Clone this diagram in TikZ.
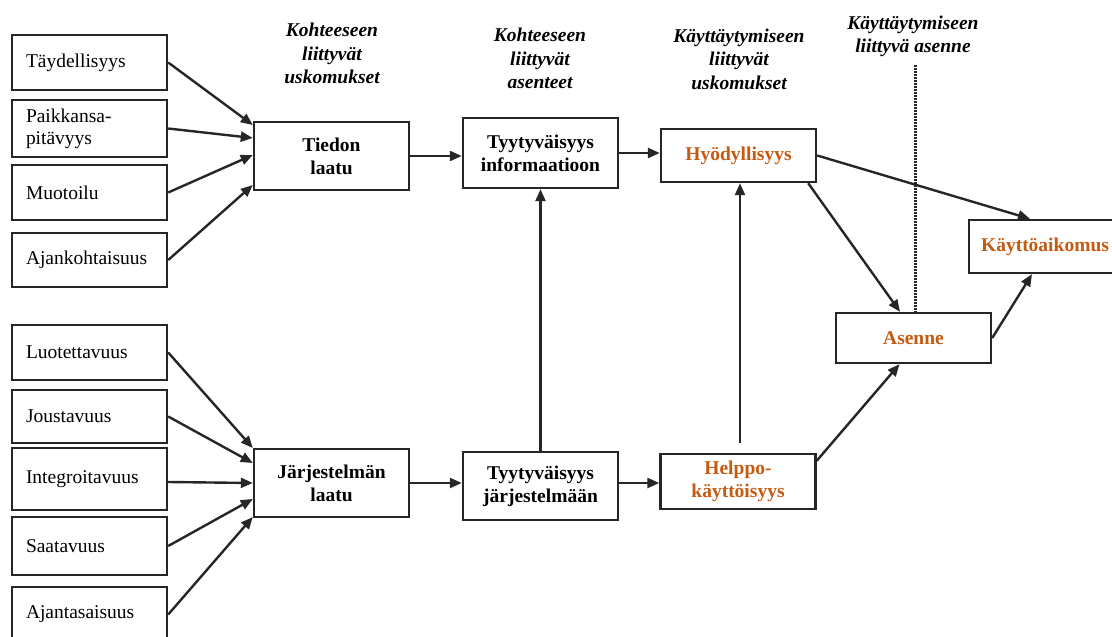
\documentclass[tikz,border=0pt]{standalone}
\usepackage{fontspec}
\setmainfont{Liberation Serif}
\usetikzlibrary{arrows.meta}
\definecolor{ink}{HTML}{262626}
\definecolor{accent}{HTML}{C55A11}

\begin{document}
\begin{tikzpicture}[x=1pt,y=-1pt,>={Triangle[length=12pt,width=10pt]},
  factor/.style={draw=ink,line width=2.4pt,inner xsep=14pt,inner ysep=0pt,text width=127pt,align=left,minimum height=#1,font=\fontsize{19.5}{22}\selectfont},
  construct/.style={draw=ink,line width=2.4pt,inner sep=0pt,minimum width=155pt,minimum height=#1,align=center,font=\bfseries\fontsize{19.5}{23}\selectfont},
  head/.style={align=center,font=\bfseries\itshape\fontsize{19.5}{23.5}\selectfont},
  link/.style={->,line width=2.4pt,draw=ink}]
  \useasboundingbox (0,0) rectangle (1112,637);
  % headers
  \node[head] (h1) at (332,53.5) {Kohteeseen\\liittyvät\\uskomukset};
  \node[head] (h2) at (540,58.5) {Kohteeseen\\liittyvät\\asenteet};
  \node[head] (h3) at (739,59) {Käyttäytymiseen\\liittyvät\\uskomukset};
  \node[head] (h4) at (913,36.5) {Käyttäytymiseen\\liittyvä asenne};
  \coordinate (dottop) at (915,65);
  % information quality factors
  \node[factor=55pt] (taeyd) at (89.5,62.5) {Täydellisyys};
  \node[factor=57pt] (paikk) at (89.5,128.5) {Paikkansa-\\pitävyys};
  \node[factor=55pt] (muoto) at (89.5,192.5) {Muotoilu};
  \node[factor=54pt] (ajank) at (89.5,260) {Ajankohtaisuus};
  % system quality factors
  \node[factor=55pt] (luot) at (89.5,352.5) {Luotettavuus};
  \node[factor=53pt] (joust) at (89.5,416.5) {Joustavuus};
  \node[factor=62pt] (integ) at (89.5,479) {Integroitavuus};
  \node[factor=58pt] (saat) at (89.5,546) {Saatavuus};
  \node[factor=55pt] (ajant) at (89.5,614.5) {Ajantasaisuus};
  % constructs
  \node[construct=68pt] (tiedon) at (331.5,156) {Tiedon\\laatu};
  \node[construct=68pt] (jarjl) at (331.5,483) {Järjestelmän\\laatu};
  \node[construct=70pt] (tyinfo) at (540.5,153) {Tyytyväisyys\\informaatioon};
  \node[construct=68pt] (tyjarj) at (540.5,486) {Tyytyväisyys\\järjestelmään};
  \node[construct=53pt,text=accent] (hyod) at (738.5,155.5) {Hyödyllisyys};
  \node[construct=55pt,text=accent] (helppo) at (738,481.5) {Helppo-\\käyttöisyys};
  \node[construct=50pt,text=accent] (asenne) at (913.5,338) {Asenne};
  \node[construct=53pt,minimum width=152pt,text=accent] (kayt) at (1045,246.5) {Käyttöaikomus};
  % arrows
  \draw[link] (taeyd.east) -- ([yshift=31pt]tiedon.west);
  \draw[link] (paikk.east) -- ([yshift=18pt]tiedon.west);
  \draw[link] (muoto.east) -- ([yshift=1pt]tiedon.west);
  \draw[link] (ajank.east) -- ([yshift=-29pt]tiedon.west);
  \draw[link] (luot.east) -- ([yshift=35pt]jarjl.west);
  \draw[link] (joust.east) -- ([yshift=20pt]jarjl.west);
  \draw[link] ([yshift=-3pt]integ.east) -- (jarjl.west);
  \draw[link] (saat.east) -- ([yshift=-16pt]jarjl.west);
  \draw[link] (ajant.east) -- ([yshift=-34pt]jarjl.west);
  \draw[link] (tiedon.east) -- (tiedon.east -| tyinfo.west);
  \draw[link] (jarjl.east) -- (jarjl.east -| tyjarj.west);
  \draw[link] (tyinfo.east) -- (tyinfo.east -| hyod.west);
  \draw[link] (tyjarj.east |- jarjl.east) -- (helppo.west |- jarjl.east);
  \draw[link] (tyjarj.north) -- (tyinfo.south);
  \draw[link] ([xshift=2pt,yshift=10pt]helppo.north) -- ([xshift=1.5pt]hyod.south);
  \draw[link] ([xshift=-9pt]hyod.south east) -- ([xshift=-13.5pt]asenne.north);
  \draw[link] (hyod.east) -- ([xshift=-15pt]kayt.north);
  \draw[link] ([yshift=-8pt]helppo.north east) -- ([xshift=-14pt]asenne.south);
  \draw[link] (asenne.east) -- ([xshift=-13pt]kayt.south);
  \draw[ink,line width=3pt,dash pattern=on 1.6pt off 1.4pt] (dottop) -- ([xshift=1.5pt]asenne.north);
\end{tikzpicture}
\end{document}
